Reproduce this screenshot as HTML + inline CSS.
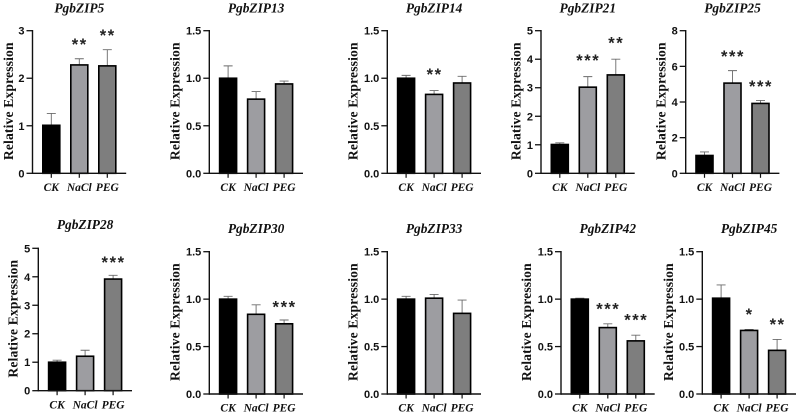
<!DOCTYPE html>
<html lang="en">
<head>
<meta charset="utf-8">
<title>Relative expression of PgbZIP genes</title>
<style>
html,body{margin:0;padding:0;background:#fff;width:799px;height:417px;overflow:hidden}
svg{display:block}
.title{font:italic bold 13.4px "Liberation Serif",serif;text-anchor:middle;fill:#111}
.ylab{font:bold 13.6px "Liberation Serif",serif;text-anchor:middle;fill:#111;letter-spacing:.15px}
.ytick{font:bold 11px "Liberation Sans",sans-serif;text-anchor:end;fill:#111}
.xtick{font:italic bold 11.5px "Liberation Serif",serif;text-anchor:middle;fill:#111}
.star{font:bold 16.5px "Liberation Sans",sans-serif;text-anchor:middle;fill:#222;letter-spacing:1.6px}
</style>
</head>
<body>
<svg id="figure" xmlns="http://www.w3.org/2000/svg" width="799" height="417" viewBox="0 0 799 417"></svg>
<script>
// ---- data ----
const genes = ['PgbZIP5','PgbZIP13','PgbZIP14','PgbZIP21','PgbZIP25','PgbZIP28','PgbZIP30','PgbZIP33','PgbZIP42','PgbZIP45'];
const groups = ['CK','NaCl','PEG'];
const means = [
  [1.01,2.28,2.26],
  [1.00,0.78,0.94],
  [1.00,0.83,0.95],
  [1.01,3.02,3.45],
  [1.00,5.06,3.92],
  [1.00,1.21,3.92],
  [1.00,0.84,0.74],
  [1.00,1.01,0.85],
  [1.00,0.70,0.56],
  [1.01,0.67,0.46]
];
const errors = [
  [0.25,0.13,0.34],
  [0.13,0.08,0.03],
  [0.03,0.04,0.07],
  [0.06,0.37,0.55],
  [0.20,0.70,0.17],
  [0.07,0.21,0.13],
  [0.03,0.10,0.04],
  [0.03,0.04,0.14],
  [0.01,0.04,0.06],
  [0.14,0.01,0.115]
];
const significance = [
  ['','**','**'],
  ['','',''],
  ['','**',''],
  ['','***','**'],
  ['','***','***'],
  ['','','***'],
  ['','','***'],
  ['','',''],
  ['','***','***'],
  ['','*','**']
];
const yTickLabels = [
  ['0','1','2','3'],
  ['0.0','0.5','1.0','1.5'],
  ['0.0','0.5','1.0','1.5'],
  ['0','1','2','3','4','5'],
  ['0','2','4','6','8'],
  ['0','1','2','3','4','5'],
  ['0.0','0.5','1.0','1.5'],
  ['0.0','0.5','1.0','1.5'],
  ['0.0','0.5','1.0','1.5'],
  ['0.0','0.5','1.0','1.5']
];
const yAxisTitle = 'Relative Expression';

// ---- layout (pixels, independent of data) ----
const axisLeft  = [32.5,209.3,387.3,541,685.7,38.3,209.3,387.3,561,702.3];
const axisTop   = [30.7,30.7,30.7,30.7,30.7,248.3,251.7,251.7,251.7,251.7];
const axisBase  = [173.3,173.3,173.3,173.3,173.3,390.7,394,394,394,394];
const ylabX     = [8.5,175,353,516,661,13,175,353,526.7,668.7];
const titleY    = [12.5,12.5,12.5,12.5,12.5,229,233,233,233,233];
const starGap   = [18,18,20,20,18,17,17,17,19,19];
const titleDX   = [0,0,0,0,0,0,0,0,0,0];
const firstBar = 18.8, barStep = 28, axisLen = 93.7, barW = 17;
const barColors = ['#000000','#9d9da1','#7e7e7e'];
const INK = '#111';

const NS = 'http://www.w3.org/2000/svg';
const svg = document.getElementById('figure');
function make(parent, tag, attrs, text){
  const el = document.createElementNS(NS, tag);
  for(const k in attrs) el.setAttribute(k, attrs[k]);
  if(text !== undefined) el.textContent = text;
  parent.appendChild(el);
  return el;
}

genes.forEach(function(gene, p){
  const g = make(svg, 'g', {});
  
  

  const x0 = axisLeft[p], yBase = axisBase[p], yTopPx = axisTop[p];
  const ticks = yTickLabels[p];
  const yMax = parseFloat(ticks[ticks.length-1]);
  const yScale = function(v){ return yBase - (v / yMax) * (yBase - yTopPx); };
  const xScale = function(i){ return x0 + firstBar + i * barStep; };

  // bars, error bars, significance marks
  groups.forEach(function(group, i){
    const cx = xScale(i), top = yScale(means[p][i]), errTop = yScale(means[p][i] + errors[p][i]);

    const err = make(g, 'path', {
      d: 'M' + cx + ' ' + top + 'V' + errTop + 'M' + (cx-4.5) + ' ' + errTop + 'H' + (cx+4.5),
      fill: 'none', stroke: '#6a6a6a', 'stroke-width': 0.9
    });
    
    

    const bar = make(g, 'rect', {
      x: cx - barW/2, y: top, width: barW, height: yBase - top,
      fill: barColors[i], stroke: '#000', 'stroke-width': 1.6
    });
    
    

    if(significance[p][i]){
      const star = make(g, 'text', {x: cx + 0.5, y: errTop - starGap[p] + 9.5, class: 'star'}, significance[p][i]);
      
      
    }

    const tick = make(g, 'line', {x1: cx, x2: cx, y1: yBase, y2: yBase + 4.5, stroke: INK, 'stroke-width': 1.2});
    
    

    const lab = make(g, 'text', {x: cx, y: yBase + 17.7, class: 'xtick'}, group);
    
    
  });

  // axes
  const yAxis = make(g, 'line', {x1: x0, x2: x0, y1: yTopPx - 0.7, y2: yBase + 0.7, stroke: INK, 'stroke-width': 1.4});
  
  

  const xAxis = make(g, 'line', {x1: x0, x2: x0 + axisLen, y1: yBase, y2: yBase, stroke: INK, 'stroke-width': 1.4});
  
  

  ticks.forEach(function(label){
    const y = yScale(parseFloat(label));
    const t = make(g, 'line', {x1: x0 - 6, x2: x0, y1: y, y2: y, stroke: INK, 'stroke-width': 1.3});
    
    

    const tl = make(g, 'text', {x: x0 - 8, y: y + 4, class: 'ytick'}, label);
    
    
  });

  // titles
  const title = make(g, 'text', {x: xScale(1) + titleDX[p], y: titleY[p], class: 'title'}, gene);
  
  

  const my = (yTopPx + yBase) / 2 - 0.8;
  const yl = make(g, 'text', {x: ylabX[p], y: my, class: 'ylab', transform: 'rotate(-90 ' + ylabX[p] + ' ' + my + ') translate(0 4.5)'}, yAxisTitle);
  
  
});
</script>
</body>
</html>
